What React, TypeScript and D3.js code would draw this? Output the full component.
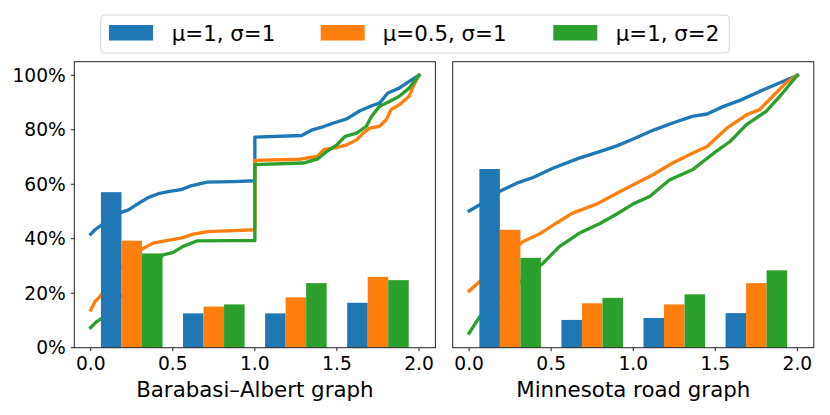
import React from "react";
import * as d3 from "d3";

const seriesNames = ["μ=1, σ=1", "μ=0.5, σ=1", "μ=1, σ=2"];
const colors = ["#1f77b4", "#ff7f0e", "#2ca02c"];
const groupCenters = [0.25, 0.75, 1.25, 1.75];
const barWidth = 0.125;
const xTicks = [0, 0.5, 1, 1.5, 2];
const yTicks = [0, 20, 40, 60, 80, 100];

// Barabasi–Albert bars (percent)
const baBlue = [57.1, 12.6, 12.6, 16.5];
const baOrange = [39.3, 15.1, 18.5, 26.0];
const baGreen = [34.6, 15.9, 23.7, 24.8];
// Minnesota bars
const mnBlue = [65.6, 10.2, 10.9, 12.7];
const mnOrange = [43.3, 16.3, 15.9, 23.7];
const mnGreen = [33.0, 18.3, 19.6, 28.4];

// Curves [x, percent]
const baBlueLine: [number, number][] = [
  [0, 41.7], [0.026, 43.3], [0.067, 45.1], [0.12, 47.5], [0.19, 49.8], [0.23, 50.6], [0.26, 51.8], [0.3, 53.3],
  [0.35, 55.1], [0.42, 56.7], [0.48, 57.4], [0.55, 58.0], [0.61, 59.4], [0.71, 60.8], [0.87, 61.0], [1.0, 61.3],
  [1.0, 77.3], [1.285, 77.9], [1.35, 80.0], [1.42, 81.2], [1.48, 82.5], [1.56, 84.0], [1.64, 87.0], [1.72, 89.0],
  [1.76, 89.8], [1.81, 93.5], [1.88, 95.3], [1.94, 97.8], [2.0, 100],
];
const baOrangeLine: [number, number][] = [
  [0, 13.8], [0.026, 16.9], [0.057, 18.8], [0.097, 22.4], [0.148, 27.3], [0.19, 29.8], [0.26, 34.1], [0.32, 36.5],
  [0.38, 38.4], [0.46, 39.3], [0.55, 40.2], [0.625, 41.7], [0.71, 42.6], [0.87, 43.0], [1.0, 43.3],
  [1.0, 68.8], [1.275, 69.2], [1.38, 70.2], [1.42, 72.7], [1.5, 73.5], [1.56, 74.5], [1.62, 76.3], [1.66, 78.8],
  [1.7, 80.6], [1.76, 81.3], [1.8, 83.7], [1.83, 87.4], [1.88, 89.2], [1.94, 92.3], [1.97, 96.6], [2.0, 100],
];
const baGreenLine: [number, number][] = [
  [0, 7.4], [0.037, 9.6], [0.097, 12.0], [0.138, 15.7], [0.179, 18.8], [0.23, 20.2], [0.26, 23.0], [0.3, 24.9],
  [0.32, 26.1], [0.44, 34.1], [0.5, 34.9], [0.56, 37.1], [0.646, 39.2], [0.87, 39.3], [1.0, 39.3],
  [1.0, 67.2], [1.295, 67.8], [1.38, 69.2], [1.44, 72.1], [1.5, 74.5], [1.55, 77.6], [1.62, 78.8], [1.68, 81.3],
  [1.71, 84.9], [1.76, 88.6], [1.82, 90.4], [1.88, 92.3], [1.94, 95.3], [2.0, 100],
];
const mnBlueLine: [number, number][] = [
  [0, 50.2], [0.065, 52.5], [0.187, 57.4], [0.29, 60.4], [0.39, 62.5], [0.51, 65.9], [0.67, 69.6], [0.8, 72.1],
  [0.9, 74.1], [1.0, 76.6], [1.12, 79.8], [1.24, 82.5], [1.36, 84.9], [1.45, 85.8], [1.55, 88.6], [1.65, 90.8],
  [1.77, 94.1], [1.89, 97.2], [2.0, 100],
];
const mnOrangeLine: [number, number][] = [
  [0, 20.8], [0.065, 24.3], [0.126, 28.6], [0.227, 34.1], [0.33, 39.0], [0.43, 41.8], [0.53, 45.7], [0.63, 49.4],
  [0.78, 52.8], [0.9, 56.7], [1.0, 59.8], [1.12, 63.5], [1.24, 67.8], [1.36, 71.4], [1.45, 73.9], [1.57, 80.6],
  [1.69, 85.5], [1.77, 87.4], [1.85, 92.3], [1.93, 97.2], [2.0, 100],
];
const mnGreenLine: [number, number][] = [
  [0, 5.3], [0.065, 11.4], [0.146, 16.9], [0.248, 21.2], [0.35, 26.1], [0.45, 31.0], [0.55, 37.1], [0.67, 42.0],
  [0.8, 45.7], [0.9, 49.1], [1.0, 52.8], [1.1, 55.5], [1.22, 61.6], [1.36, 65.3], [1.49, 71.4], [1.59, 75.7],
  [1.69, 81.9], [1.81, 86.8], [1.91, 93.5], [2.0, 100],
];

const FONT = "DejaVu Sans";

type PanelProps = {
  left: number;
  bars: number[][];
  lines: [number, number][][];
  label: string;
  showY: boolean;
};

const TOP = 61.7;
const BOTTOM = 347.7;
const WIDTH = 361.1;

function Panel({ left, bars, lines, label, showY }: PanelProps) {
  const x = d3.scaleLinear().domain([-0.1, 2.1]).range([left, left + WIDTH]);
  const y = d3.scaleLinear().domain([0, 105]).range([BOTTOM, TOP]);
  const line = d3.line<[number, number]>().x((d) => x(d[0])).y((d) => y(d[1]));
  const fmt = (v: number) => v.toFixed(1);
  return (
    <g>
      {lines.map((pts, i) => (
        <path key={"l" + i} d={line(pts) || ""} fill="none" stroke={colors[i]} strokeWidth={3.33} strokeLinejoin="round" strokeLinecap="square" />
      ))}
      {bars.map((vals, si) =>
        vals.map((v, gi) => {
          const cx = groupCenters[gi] + (si - 1) * barWidth;
          const x0 = x(cx - barWidth / 2);
          const x1 = x(cx + barWidth / 2);
          return <rect key={`b${si}-${gi}`} x={x0} y={y(v)} width={x1 - x0} height={y(0) - y(v)} fill={colors[si]} />;
        })
      )}
      <rect x={left} y={TOP} width={WIDTH} height={BOTTOM - TOP} fill="none" stroke="#222" strokeWidth={1} />
      {xTicks.map((t) => (
        <g key={"x" + t}>
          <line x1={x(t)} x2={x(t)} y1={BOTTOM} y2={BOTTOM + 3.5} stroke="#222" strokeWidth={1} />
          <text x={x(t)} y={BOTTOM + 15.5} textAnchor="middle" dominantBaseline="central" fontFamily={FONT} fontSize={18.67} fill="#000">
            {fmt(t)}
          </text>
        </g>
      ))}
      {showY &&
        yTicks.map((t) => (
          <g key={"y" + t}>
            <line x1={left - 3.5} x2={left} y1={y(t)} y2={y(t)} stroke="#222" strokeWidth={1} />
            <text x={left - 8.5} y={y(t)} textAnchor="end" dominantBaseline="central" fontFamily={FONT} fontSize={18.67} fill="#000">
              {t + "%"}
            </text>
          </g>
        ))}
      <text x={left + WIDTH / 2} y={389.5} textAnchor="middle" dominantBaseline="central" fontFamily={FONT} fontSize={21.33} fill="#000">
        {label}
      </text>
    </g>
  );
}

const legendPatchX = [109, 320.7, 553.3];
const legendTextX = [171.7, 382.7, 615.7];

export default function App() {
  return (
    <svg width={830} height={415} style={{ position: "absolute", left: 0, top: 0, background: "#fff" }}>
      <rect x={0} y={0} width={830} height={415} fill="#fff" />
      <Panel left={74.3} bars={[baBlue, baOrange, baGreen]} lines={[baBlueLine, baOrangeLine, baGreenLine]} label="Barabasi–Albert graph" showY={true} />
      <Panel left={452.7} bars={[mnBlue, mnOrange, mnGreen]} lines={[mnBlueLine, mnOrangeLine, mnGreenLine]} label="Minnesota road graph" showY={false} />
      <rect x={100.7} y={15} width={628.6} height={38} rx={4} fill="#fff" fillOpacity={0.8} stroke="#d6d6d6" strokeWidth={1} />
      {seriesNames.map((n, i) => (
        <g key={"lg" + i}>
          <rect x={legendPatchX[i]} y={25} width={44} height={15.5} fill={colors[i]} />
          <text x={legendTextX[i]} y={33.5} dominantBaseline="central" fontFamily={FONT} fontSize={21.33} fill="#000">
            {n}
          </text>
        </g>
      ))}
    </svg>
  );
}
